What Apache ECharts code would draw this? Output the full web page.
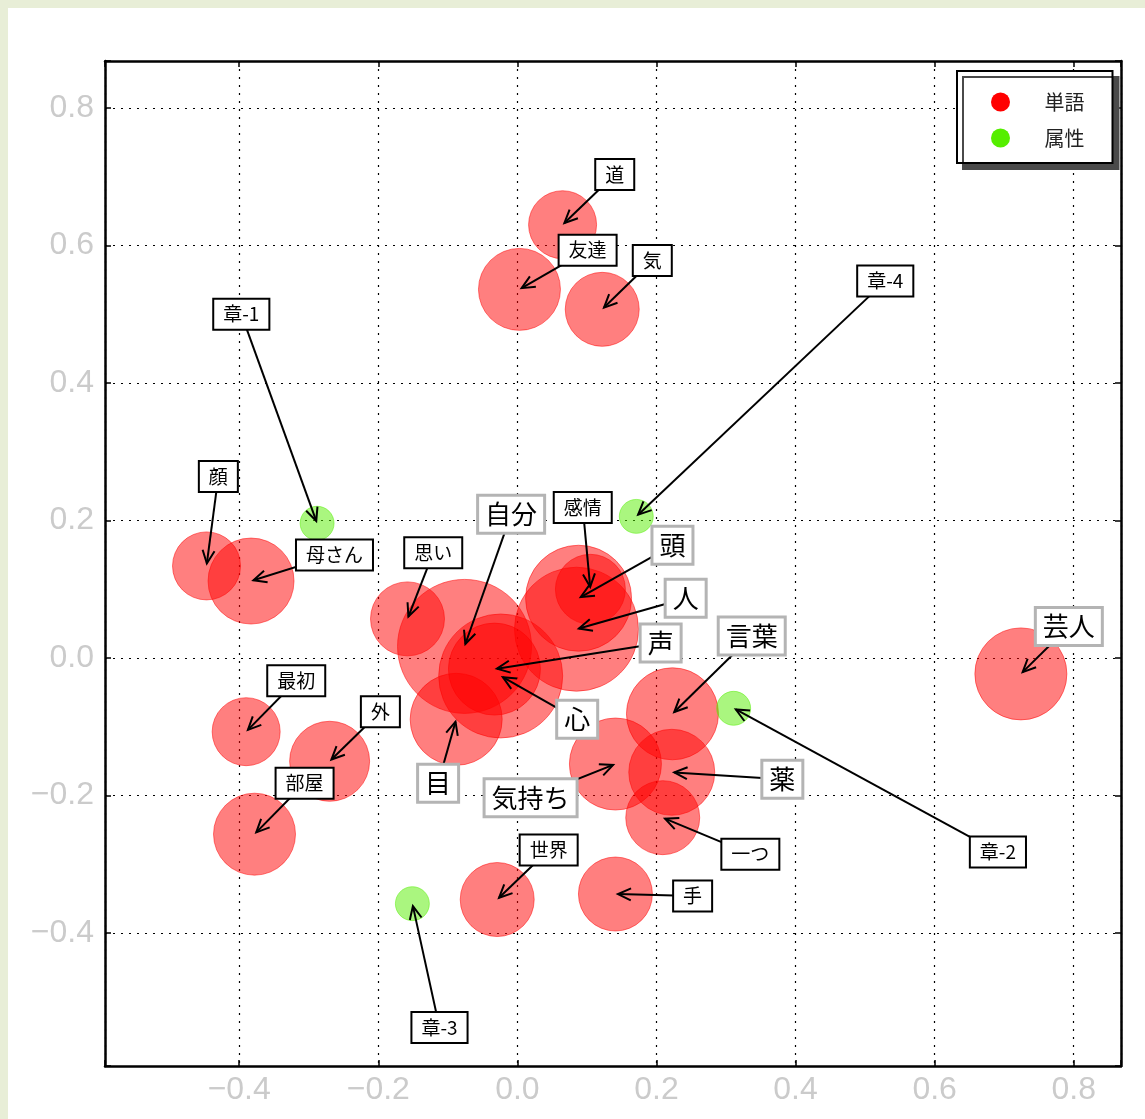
<!DOCTYPE html>
<html>
<head>
<meta charset="utf-8">
<script src="https://cdn.jsdelivr.net/npm/echarts@6/dist/echarts.min.js"></script>
<style>
  html, body { margin: 0; padding: 0; background: #e8eed7; }
  #sheet { position: absolute; left: 8px; top: 8px; width: 1137px; height: 1111px; background: #ffffff; }
  #chart { position: absolute; left: 0; top: 0; width: 1145px; height: 1119px; }
</style>
</head>
<body>
<div id="sheet"></div>
<div id="chart"></div>
<script>
// Words (単語): position in the reduced space and occurrence weight
const words = ['道', '友達', '気', '顔', '母さん', '思い', '自分', '声', '心', '目', '感情', '頭', '人',
  '言葉', '気持ち', '薬', '一つ', '手', '世界', '最初', '外', '部屋', '芸人'];
const wordX = [0.065, 0.003, 0.122, -0.447, -0.383, -0.158, -0.076, -0.033, -0.024, -0.088, 0.105, 0.088, 0.085,
  0.223, 0.141, 0.222, 0.209, 0.141, -0.029, -0.390, -0.270, -0.378, 0.724];
const wordY = [0.630, 0.536, 0.507, 0.134, 0.112, 0.057, 0.017, -0.016, -0.026, -0.089, 0.100, 0.087, 0.042,
  -0.081, -0.154, -0.166, -0.232, -0.343, -0.351, -0.107, -0.150, -0.256, -0.023];
const wordWeight = [289, 420, 342, 289, 462, 342, 1122, 529, 961, 529, 306, 702, 961,
  529, 529, 462, 342, 342, 342, 289, 400, 420, 529];
// Where each word's annotation box sits (data coordinates)
const wordLabelX = [0.140, 0.101, 0.194, -0.430, -0.263, -0.121, -0.009, 0.206, 0.086, -0.114, 0.094, 0.223, 0.242,
  0.337, 0.019, 0.381, 0.335, 0.252, 0.045, -0.318, -0.197, -0.306, 0.793];
const wordLabelY = [0.703, 0.593, 0.578, 0.264, 0.150, 0.153, 0.209, 0.022, -0.089, -0.182, 0.219, 0.164, 0.087,
  0.032, -0.203, -0.176, -0.285, -0.346, -0.279, -0.033, -0.078, -0.182, 0.046];

// Attributes (属性): chapters
const attrs = ['章-1', '章-2', '章-3', '章-4'];
const attrX = [-0.288, 0.311, -0.151, 0.171];
const attrY = [0.196, -0.073, -0.357, 0.206];
const attrWeight = [72, 72, 72, 72];
const attrLabelX = [-0.397, 0.691, -0.112, 0.529];
const attrLabelY = [0.500, -0.282, -0.537, 0.548];

// Axis ticks
const tickValues = [-0.4, -0.2, 0.0, 0.2, 0.4, 0.6, 0.8];

// Words drawn with the larger grey-framed annotation
const emphasized = new Set(['自分', '頭', '人', '声', '言葉', '心', '目', '気持ち', '薬', '芸人']);

const RANGE = [-0.593, 0.868];
const sizeOf = w => 4 * Math.sqrt(w);

const fmtTick = v => {
  const hit = tickValues.some(t => Math.abs(t - v) < 1e-6);
  if (!hit) return '';
  const s = Math.abs(v) < 1e-9 ? '0.0' : v.toFixed(1);
  return s.replace('-', '\u2212');
};

// annotation rows: point x, point y, label x, label y
const notes = [];
const noteText = [];
words.forEach((w, i) => { notes.push([wordX[i], wordY[i], wordLabelX[i], wordLabelY[i]]); noteText.push(w); });
attrs.forEach((a, i) => { notes.push([attrX[i], attrY[i], attrLabelX[i], attrLabelY[i]]); noteText.push(a); });
// draw order of annotations
const order = ['章-1', '顔', '母さん', '思い', '自分', '感情', '頭', '人', '声', '心', '目', '気持ち', '薬', '言葉',
  '一つ', '手', '世界', '最初', '外', '部屋', '芸人', '道', '友達', '気', '章-2', '章-3', '章-4'];
const noteData = order.map(n => { const i = noteText.indexOf(n); return { name: n, value: notes[i] }; });

function renderNote(params, api) {
  const p = api.coord([api.value(0), api.value(1)]);
  const l = api.coord([api.value(2), api.value(3)]);
  const name = noteData[params.dataIndex].name;
  const big = emphasized.has(name);
  const dx = p[0] - l[0], dy = p[1] - l[1];
  const len = Math.sqrt(dx * dx + dy * dy);
  const ux = dx / len, uy = dy / len;
  const tip = [p[0] - ux * 2.5, p[1] - uy * 2.5];
  const hl = 13, hw = 6;
  const base = [tip[0] - ux * hl, tip[1] - uy * hl];
  const h1 = [base[0] - uy * hw, base[1] + ux * hw];
  const h2 = [base[0] + uy * hw, base[1] - ux * hw];
  const lineStyle = { stroke: '#000', lineWidth: 2, fill: null, lineCap: 'butt', lineJoin: 'miter' };
  return {
    type: 'group',
    children: [
      { type: 'line', shape: { x1: l[0], y1: l[1], x2: tip[0], y2: tip[1] }, style: lineStyle },
      { type: 'polyline', shape: { points: [h1, tip, h2] }, style: lineStyle },
      {
        type: 'text',
        x: l[0], y: l[1],
        style: {
          text: name,
          fill: '#000',
          font: (big ? '26px' : '19px') + ' "Noto Sans CJK JP", sans-serif',
          lineHeight: big ? 29 : 23,
          align: 'center',
          verticalAlign: 'middle',
          backgroundColor: '#ffffff',
          borderColor: big ? '#b4b4b4' : '#000000',
          borderWidth: big ? 3 : 2,
          padding: big ? [3, 6, 3, 6] : [3, 9, 3, 9]
        }
      }
    ]
  };
}

const axisCommon = {
  type: 'value', min: RANGE[0], max: RANGE[1],
  splitNumber: 7, minInterval: 0.2, maxInterval: 0.2
};
const tickFont = { color: '#cbcbcb', fontSize: 32, fontFamily: '"Liberation Sans", Arial, sans-serif' };

const chart = echarts.init(document.getElementById('chart'), null, { renderer: 'canvas' });
chart.setOption({
  backgroundColor: 'transparent',
  animation: false,
  grid: { left: 105, top: 61, width: 1016, height: 1005, show: false },
  legend: {
    left: 957, top: 71,
    orient: 'vertical',
    icon: 'circle',
    itemWidth: 78, itemHeight: 19, itemGap: 16,
    padding: [21, 28, 15, 34],
    backgroundColor: '#ffffff',
    borderColor: '#000', borderWidth: 2, borderRadius: 0,
    shadowColor: '#4a4a4a', shadowBlur: 0, shadowOffsetX: 6, shadowOffsetY: 6,
    textStyle: { fontFamily: '"Noto Sans CJK JP"', fontSize: 20, color: '#222' },
    data: [
      { name: '単語', itemStyle: { color: '#ff0000', opacity: 1, borderWidth: 0 } },
      { name: '属性', itemStyle: { color: '#55ee00', opacity: 1, borderWidth: 0 } }
    ]
  },
  xAxis: [
    Object.assign({}, axisCommon, {
      position: 'bottom',
      axisLine: { show: true, onZero: false, lineStyle: { color: '#000', width: 2.5 } },
      axisTick: { show: true, inside: true, length: 6, lineStyle: { color: '#000', width: 1.5 } },
      axisLabel: Object.assign({ formatter: fmtTick, margin: 8, showMinLabel: true, showMaxLabel: true, hideOverlap: false }, tickFont),
      splitLine: { show: true, lineStyle: { color: '#000', width: 1.2, type: [2, 6] } }
    }),
    Object.assign({}, axisCommon, {
      position: 'top',
      axisLine: { show: true, onZero: false, lineStyle: { color: '#000', width: 2.5 } },
      axisTick: { show: true, inside: true, length: 6, lineStyle: { color: '#000', width: 1.5 } },
      axisLabel: { show: false },
      splitLine: { show: false }
    })
  ],
  yAxis: [
    Object.assign({}, axisCommon, {
      position: 'left',
      axisLine: { show: true, onZero: false, lineStyle: { color: '#000', width: 2.5 } },
      axisTick: { show: true, inside: true, length: 6, lineStyle: { color: '#000', width: 1.5 } },
      axisLabel: Object.assign({ formatter: fmtTick, margin: 11, showMinLabel: true, showMaxLabel: true, hideOverlap: false }, tickFont),
      splitLine: { show: true, lineStyle: { color: '#000', width: 1.2, type: [2, 6] } }
    }),
    Object.assign({}, axisCommon, {
      position: 'right',
      axisLine: { show: true, onZero: false, lineStyle: { color: '#000', width: 2.5 } },
      axisTick: { show: true, inside: true, length: 6, lineStyle: { color: '#000', width: 1.5 } },
      axisLabel: { show: false },
      splitLine: { show: false }
    })
  ],
  series: [
    {
      name: '単語', type: 'scatter', xAxisIndex: 0, yAxisIndex: 0, z: 2,
      data: words.map((w, i) => ({ name: w, value: [wordX[i], wordY[i], wordWeight[i]] })),
      symbol: 'circle',
      symbolSize: v => sizeOf(v[2]),
      itemStyle: { color: '#ff0000', opacity: 0.5, borderColor: '#ff0000', borderWidth: 1 },
      emphasis: { disabled: true }
    },
    {
      name: '属性', type: 'scatter', xAxisIndex: 0, yAxisIndex: 0, z: 2,
      data: attrs.map((a, i) => ({ name: a, value: [attrX[i], attrY[i], attrWeight[i]] })),
      symbol: 'circle',
      symbolSize: v => sizeOf(v[2]),
      itemStyle: { color: '#55ee00', opacity: 0.5, borderColor: '#55ee00', borderWidth: 1 },
      emphasis: { disabled: true }
    },
    {
      name: 'annotations', type: 'custom', xAxisIndex: 0, yAxisIndex: 0, z: 5,
      renderItem: renderNote,
      data: noteData,
      silent: true
    }
  ]
});
</script>
</body>
</html>
